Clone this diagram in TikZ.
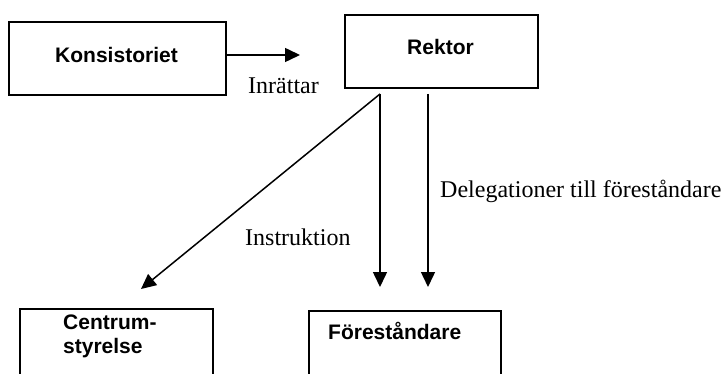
\documentclass[tikz,border=0pt]{standalone}
\usepackage{fontspec}
\setmainfont{Liberation Serif}
\setsansfont{Liberation Sans}
\usetikzlibrary{arrows.meta}
\begin{document}
\begin{tikzpicture}[x=1pt,y=-1pt,
  box/.style={draw,line width=1.6pt,inner sep=0,anchor=north west},
  lbl/.style={font=\sffamily\bfseries\fontsize{21}{25}\selectfont,inner sep=0},
  txt/.style={font=\fontsize{24}{28}\selectfont,inner sep=0,anchor=base west},
  arr/.style={line width=1.5pt,-{Triangle[length=15pt,width=14pt]}}]
\useasboundingbox (0,0) rectangle (722,374);
\clip (0,0) rectangle (722,374);
% boxes
\node[box,minimum width=217pt,minimum height=73pt] (kons) at (8,21) {};
\node[lbl,anchor=base] (konsT) at (116.5,62.5) {Konsistoriet};
\node[box,minimum width=193pt,minimum height=73pt] (rek) at (344,14) {};
\node[lbl,anchor=base] (rekT) at (440.5,55) {Rektor};
\node[box,minimum width=193pt,minimum height=90pt] (cen) at (19,308) {};
\node[lbl,anchor=base west] (cenT1) at (63,329) {Centrum-};
\node[lbl,anchor=base west] (cenT2) at (63,353) {styrelse};
\node[box,minimum width=192pt,minimum height=90pt] (fore) at (308,310) {};
\node[lbl,anchor=base west] (foreT) at (328,339) {Föreståndare};
% labels
\node[txt] (inrT) at (248,94) {Inrättar};
\node[txt] (insT) at (245,245) {Instruktion};
\node[txt] (delT) at (440,197) {Delegationer till föreståndare};
% connector points
\coordinate (ks) at (227,55);
\coordinate (ke) at (300,55);
\coordinate (r1) at (380,94);
\coordinate (r2) at (428,94);
\coordinate (t1) at (380,287);
\coordinate (t2) at (428,287);
\coordinate (tc) at (141,289);
% connectors
\draw[arr] (ks) -- (ke);
\draw[arr] (r1) -- (tc);
\draw[arr] (r1) -- (t1);
\draw[arr] (r2) -- (t2);
\end{tikzpicture}
\end{document}
